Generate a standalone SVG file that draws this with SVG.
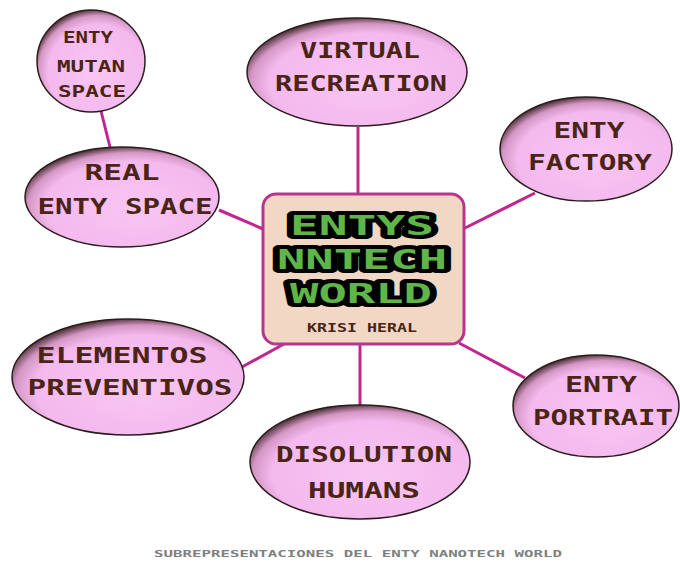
<svg xmlns="http://www.w3.org/2000/svg" width="680" height="562" viewBox="0 0 680 562">
<defs>
<radialGradient id="pg" cx="0.56" cy="0.6" r="0.62">
<stop offset="0" stop-color="#f8c6f2"/>
<stop offset="0.74" stop-color="#f4b9ee"/>
<stop offset="0.88" stop-color="#d496c4"/>
<stop offset="1" stop-color="#3a2424"/>
</radialGradient>
<style>
.el{fill:url(#pg);stroke:#2b1c1c;stroke-width:1.5}
.t{font-family:"DejaVu Sans Mono",monospace;font-weight:bold;fill:#4a2414;text-anchor:middle}
.ti{font-family:"DejaVu Sans Mono",monospace;font-weight:bold;fill:#5fb548;stroke:#000;stroke-width:8;stroke-linejoin:round;paint-order:stroke;text-anchor:middle}
.c{stroke:#c0268e;stroke-width:3;fill:none}
</style>
</defs>
<rect width="680" height="562" fill="#ffffff"/>
<g id="connectors">
<line class="c" x1="358" y1="127" x2="358" y2="194"/>
<line class="c" x1="463" y1="229" x2="535" y2="193"/>
<line class="c" x1="219" y1="210" x2="263" y2="229"/>
<line class="c" x1="101" y1="111" x2="110" y2="147"/>
<line class="c" x1="242" y1="367" x2="284" y2="344"/>
<line class="c" x1="360" y1="344" x2="360" y2="406"/>
<line class="c" x1="459" y1="343" x2="525" y2="378"/>
</g>
<g id="center">
<rect x="263" y="194" width="201" height="150" rx="13" fill="#f2d7c4" stroke="#b5368f" stroke-width="3"/>
<text class="ti" x="362" y="235" font-size="27" textLength="144" lengthAdjust="spacingAndGlyphs">ENTYS</text>
<text class="ti" x="362" y="269" font-size="27" textLength="170" lengthAdjust="spacingAndGlyphs">NNTECH</text>
<text class="ti" x="361" y="303" font-size="27" textLength="142" lengthAdjust="spacingAndGlyphs">WORLD</text>
<text class="t" x="362" y="332" font-size="12" fill="#2a1a14" textLength="110" lengthAdjust="spacingAndGlyphs">KRISI HERAL</text>
</g>
<g id="enty-mutan-space">
<ellipse class="el" cx="91" cy="61" rx="54" ry="51"/>
<text class="t" x="88" y="43" font-size="15" textLength="50" lengthAdjust="spacingAndGlyphs">ENTY</text>
<text class="t" x="91" y="72" font-size="15" textLength="68" lengthAdjust="spacingAndGlyphs">MUTAN</text>
<text class="t" x="92" y="97" font-size="15" textLength="68" lengthAdjust="spacingAndGlyphs">SPACE</text>
</g>
<g id="virtual-recreation">
<ellipse class="el" cx="357" cy="72" rx="110" ry="54"/>
<text class="t" x="360" y="58" font-size="22" textLength="120" lengthAdjust="spacingAndGlyphs">VIRTUAL</text>
<text class="t" x="361" y="91" font-size="22" textLength="172" lengthAdjust="spacingAndGlyphs">RECREATION</text>
</g>
<g id="enty-factory">
<ellipse class="el" cx="586" cy="149" rx="86" ry="52"/>
<text class="t" x="589" y="138" font-size="22" textLength="71" lengthAdjust="spacingAndGlyphs">ENTY</text>
<text class="t" x="590" y="170" font-size="22" textLength="124" lengthAdjust="spacingAndGlyphs">FACTORY</text>
</g>
<g id="real-enty-space">
<ellipse class="el" cx="122" cy="197" rx="97" ry="50"/>
<text class="t" x="122" y="180" font-size="22" textLength="75" lengthAdjust="spacingAndGlyphs">REAL</text>
<text class="t" x="125" y="214" font-size="22" textLength="175" lengthAdjust="spacingAndGlyphs">ENTY SPACE</text>
</g>
<g id="elementos-preventivos">
<ellipse class="el" cx="128" cy="377" rx="116" ry="58"/>
<text class="t" x="122" y="363" font-size="22" textLength="171" lengthAdjust="spacingAndGlyphs">ELEMENTOS</text>
<text class="t" x="130" y="395" font-size="22" textLength="205" lengthAdjust="spacingAndGlyphs">PREVENTIVOS</text>
</g>
<g id="disolution-humans">
<ellipse class="el" cx="360" cy="462" rx="110" ry="57"/>
<text class="t" x="364" y="462" font-size="22" textLength="176" lengthAdjust="spacingAndGlyphs">DISOLUTION</text>
<text class="t" x="364" y="498" font-size="22" textLength="112" lengthAdjust="spacingAndGlyphs">HUMANS</text>
</g>
<g id="enty-portrait">
<ellipse class="el" cx="596" cy="406" rx="83" ry="51"/>
<text class="t" x="601" y="392" font-size="22" textLength="72" lengthAdjust="spacingAndGlyphs">ENTY</text>
<text class="t" x="603" y="425" font-size="22" textLength="140" lengthAdjust="spacingAndGlyphs">PORTRAIT</text>
</g>
<text x="358" y="557" font-family="DejaVu Sans Mono,monospace" font-weight="bold" font-size="9" fill="#808080" text-anchor="middle" textLength="408" lengthAdjust="spacingAndGlyphs">SUBREPRESENTACIONES DEL ENTY NANOTECH WORLD</text>
</svg>
